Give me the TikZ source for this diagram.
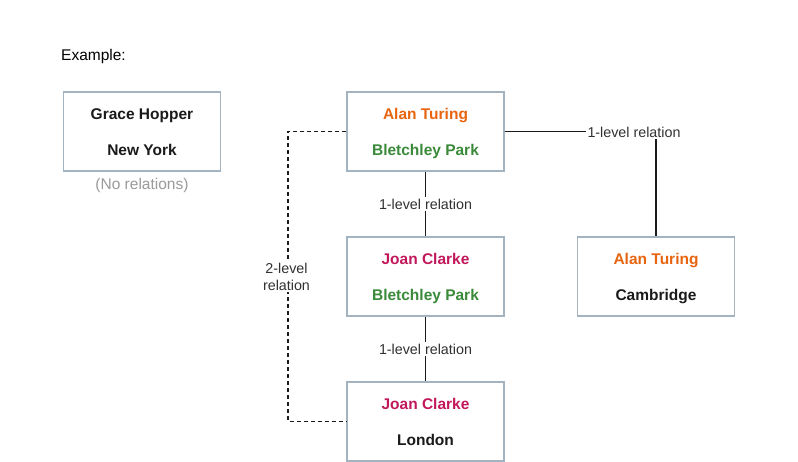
\documentclass[tikz,border=0pt]{standalone}
\usepackage{fontspec}
\setmainfont{Liberation Sans}
\definecolor{boxline}{HTML}{A3B3BF}
\definecolor{orangeN}{HTML}{E8640F}
\definecolor{greenN}{HTML}{3A8A3A}
\definecolor{magN}{HTML}{C2185B}
\definecolor{grayN}{HTML}{9A9A9A}
\definecolor{inkN}{HTML}{1A1A1A}
\begin{document}
\begin{tikzpicture}[x=1pt,y=-1pt,
  card/.style={draw=boxline, line width=1.5pt, minimum width=157pt, minimum height=79pt, inner sep=0pt, fill=white},
  ctext/.style={font=\fontsize{15.5}{18}\selectfont\bfseries, anchor=base, inner sep=0pt},
  rel/.style={font=\fontsize{14.3}{17}\selectfont, text=inkN!90, fill=white, inner sep=1.5pt},
  link/.style={draw=inkN, line width=1.5pt},
  dlink/.style={draw=inkN, line width=1.4pt, dash pattern=on 4pt off 3pt}]
\fill[white] (0,0) rectangle (798,462);
\useasboundingbox (0,0) rectangle (798,462);

\node[font=\fontsize{15.5}{18}\selectfont, anchor=base west, inner sep=0pt] (ex) at (61,61) {Example:};

% cards
\node[card] (gh) at (142,131.5) {};
\node[card] (at) at (425.5,131.5) {};
\node[card] (jc) at (425.5,276.5) {};
\node[card] (jcl) at (425.5,421.5) {};
\node[card] (atc) at (656,276.5) {};

% card texts
\node[ctext, text=inkN] (ghn) at (142,119.5) {Grace Hopper};
\node[ctext, text=inkN] (ghp) at (142,155.5) {New York};
\node[font=\fontsize{15.5}{18}\selectfont, text=grayN, anchor=base, inner sep=0pt] (nr) at (142,190) {(No relations)};

\node[ctext, text=orangeN] (atn) at (425.5,119.5) {Alan Turing};
\node[ctext, text=greenN] (atp) at (425.5,155.5) {Bletchley Park};

\node[ctext, text=magN] (jcn) at (425.5,264.5) {Joan Clarke};
\node[ctext, text=greenN] (jcp) at (425.5,300.5) {Bletchley Park};

\node[ctext, text=magN] (jcln) at (425.5,409.5) {Joan Clarke};
\node[ctext, text=inkN] (jclp) at (425.5,445.5) {London};

\node[ctext, text=orangeN] (atcn) at (656,264.5) {Alan Turing};
\node[ctext, text=inkN] (atcp) at (656,300.5) {Cambridge};

% connectors
\draw[link] (at.south) -- (jc.north) node[rel, midway] (l1) {1-level relation};
\draw[link] (jc.south) -- (jcl.north) node[rel, midway] (l2) {1-level relation};
\draw[link] (at.east) -| (atc.north);
\node[rel] (l3) at (634,132) {1-level relation};

\coordinate (dl) at (288,0);
\draw[dlink] (at.west) -- (at.west -| dl) -- (jcl.west -| dl) -- (jcl.west);
\node[rel, align=center, font=\fontsize{14.3}{17}\selectfont] (l4) at (286.5,277) {2-level\\relation};
\end{tikzpicture}
\end{document}
